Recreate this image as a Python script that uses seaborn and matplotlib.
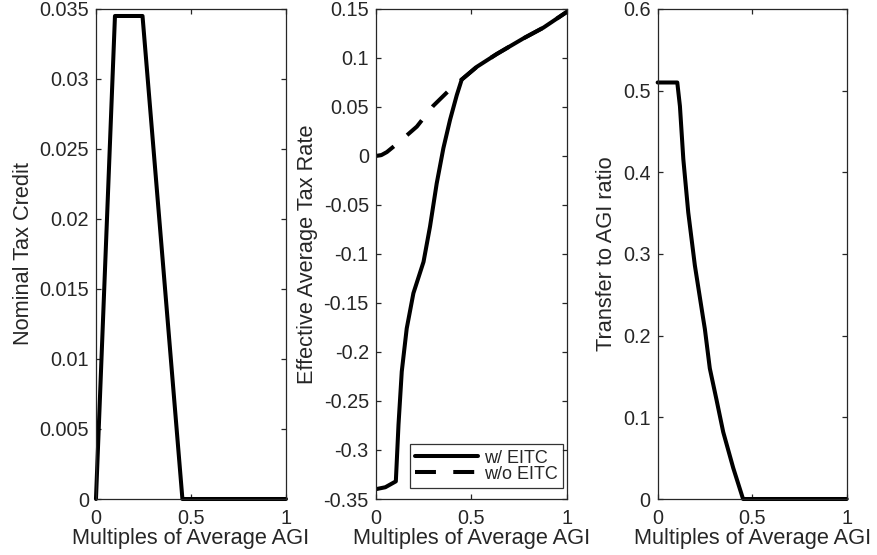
import numpy as np
import pandas as pd
import matplotlib
matplotlib.use('Agg')
import matplotlib.pyplot as plt
import seaborn as sns
from matplotlib.ticker import FuncFormatter

# values
credit_x = [0, 0.1, 0.245, 0.455, 1.0]
credit_y = [0, 0.0345, 0.0345, 0, 0]

with_x = [0, 0.05, 0.105, 0.119, 0.136, 0.162, 0.197, 0.25, 0.284, 0.319, 0.354, 0.389,
          0.424, 0.45, 0.529, 0.633, 0.773, 0.878, 1.0]
with_y = [-0.34, -0.338, -0.332, -0.274, -0.22, -0.176, -0.14, -0.108, -0.072, -0.028,
          0.008, 0.037, 0.062, 0.078, 0.091, 0.104, 0.12, 0.131, 0.147]

without_x = [0, 0.03, 0.058, 0.127, 0.215, 0.30, 0.389, 0.45, 0.529, 0.633, 0.773, 0.878, 1.0]
without_y = [0, 0.001, 0.004, 0.015, 0.03, 0.051, 0.068, 0.078, 0.091, 0.104, 0.12, 0.131, 0.147]

transfer_x = [0, 0.104, 0.118, 0.136, 0.162, 0.197, 0.241, 0.25, 0.276, 0.312, 0.347, 0.4,
              0.452, 1.0]
transfer_y = [0.51, 0.51, 0.481, 0.416, 0.351, 0.286, 0.221, 0.208, 0.16, 0.121, 0.082,
              0.038, 0.0, 0.0]

sns.set_style('ticks')
plt.rcParams['font.family'] = ['Liberation Sans', 'DejaVu Sans']
plt.rcParams['xtick.direction'] = 'in'
plt.rcParams['ytick.direction'] = 'in'

fig = plt.figure(figsize=(8.78, 5.55), dpi=100)
bot, h = 0.1009, 0.8829
ax1 = fig.add_axes([0.1093, bot, 0.2164, h])
ax2 = fig.add_axes([0.428, bot, 0.2175, h])
ax3 = fig.add_axes([0.749, bot, 0.2153, h])

lw = 2.9
sns.lineplot(x=credit_x, y=credit_y, ax=ax1, color='black', lw=lw, clip_on=False, sort=False)
sns.lineplot(x=with_x, y=with_y, ax=ax2, color='black', lw=lw, label='w/ EITC', sort=False)
sns.lineplot(x=without_x, y=without_y, ax=ax2, color='black', lw=lw, linestyle=(0, (5.2, 4.3)),
             label='w/o EITC', sort=False)
sns.lineplot(x=transfer_x, y=transfer_y, ax=ax3, color='black', lw=lw, clip_on=False, sort=False)

ax1.set_ylim(0, 0.035)
ax1.set_yticks(np.arange(0, 0.0351, 0.005))
ax2.set_ylim(-0.35, 0.15)
ax2.set_yticks(np.arange(-0.35, 0.151, 0.05))
ax3.set_ylim(0, 0.6)
ax3.set_yticks(np.arange(0, 0.61, 0.1))

ax1.set_ylabel('Nominal Tax Credit', fontsize=15.7, labelpad=4)
ax2.set_ylabel('Effective Average Tax Rate', fontsize=15.7, labelpad=4)
ax3.set_ylabel('Transfer to AGI ratio', fontsize=15.7, labelpad=4)

fmt = FuncFormatter(lambda v, p: '%g' % round(v, 4) if abs(v) > 1e-9 else '0')
for ax in (ax1, ax2, ax3):
    ax.set_xlim(0, 1)
    ax.set_xticks([0, 0.5, 1])
    ax.xaxis.set_major_formatter(fmt)
    ax.yaxis.set_major_formatter(fmt)
    ax.set_xlabel('Multiples of Average AGI', fontsize=15.7, labelpad=0)
    ax.tick_params(axis='both', labelsize=14.3, labelcolor='#262626', color='#262626',
                   length=3.5, width=0.9, top=True, right=True)
    ax.tick_params(axis='y', pad=5)
    ax.tick_params(axis='x', pad=7.5)
    for s in ax.spines.values():
        s.set_visible(True)
        s.set_color('#262626')
        s.set_linewidth(0.9)

leg = ax2.legend(loc='lower right', bbox_to_anchor=(0.979, 0.0224), fontsize=13,
                 frameon=True, fancybox=False, handlelength=3.5, borderpad=0.3,
                 labelspacing=-0.05, handletextpad=0.3, borderaxespad=0)
leg.get_frame().set_edgecolor('black')
leg.get_frame().set_linewidth(0.9)

fig.savefig('out.png', dpi=100)
